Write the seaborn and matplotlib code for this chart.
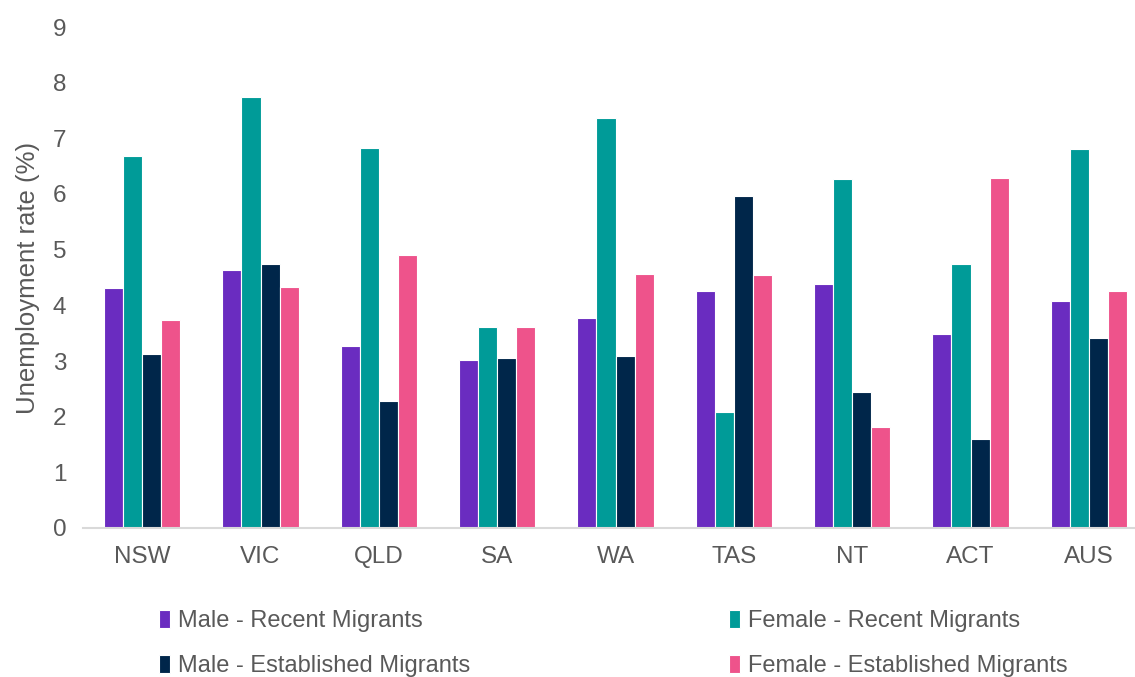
import matplotlib
matplotlib.use("Agg")
import matplotlib.pyplot as plt
import seaborn as sns
import pandas as pd

states = ["NSW", "VIC", "QLD", "SA", "WA", "TAS", "NT", "ACT", "AUS"]
series_names = ["Male - Recent Migrants", "Female - Recent Migrants",
                "Male - Established Migrants", "Female - Established Migrants"]
male_recent = [4.31, 4.63, 3.27, 3.02, 3.78, 4.26, 4.38, 3.48, 4.08]
female_recent = [6.68, 7.74, 6.83, 3.61, 7.36, 2.09, 6.27, 4.75, 6.80]
male_established = [3.13, 4.75, 2.28, 3.06, 3.09, 5.96, 2.44, 1.59, 3.41]
female_established = [3.74, 4.33, 4.91, 3.61, 4.56, 4.54, 1.82, 6.29, 4.26]
colors = ["#6A2CC0", "#009B98", "#00264A", "#EE538B"]

values = [male_recent, female_recent, male_established, female_established]
rows = []
for name, vals in zip(series_names, values):
    for s, v in zip(states, vals):
        rows.append({"state": s, "series": name, "rate": v})
df = pd.DataFrame(rows)

sns.set_theme(style="white")
plt.rcParams['font.family'] = ['Liberation Sans', 'DejaVu Sans']
text_color = "#595959"

fig = plt.figure(figsize=(11.35, 6.77), dpi=100)
ax = fig.add_axes([83 / 1135, 149 / 677, (1135 - 83) / 1135, 501 / 677])

sns.barplot(data=df, x="state", y="rate", hue="series", order=states,
            hue_order=series_names, palette=colors, width=0.645,
            edgecolor="white", linewidth=0.8, saturation=1, ax=ax)

ax.set_ylim(0, 9)
ax.set_xlim(-0.5, 8.39)
ax.set_yticks(range(0, 10))
ax.set_xlabel("")
ax.set_ylabel("Unemployment rate (%)", fontsize=18.5, color=text_color, labelpad=9)
ax.tick_params(axis="y", length=0, pad=12, labelsize=17.5, labelcolor=text_color)
ax.tick_params(axis="x", length=0, pad=13, labelsize=17.5, labelcolor=text_color)
for side in ["top", "right", "left"]:
    ax.spines[side].set_visible(False)
ax.spines["bottom"].set_color("#D9D9D9")
ax.spines["bottom"].set_linewidth(1.5)

handles, labels = ax.get_legend_handles_labels()
ax.get_legend().remove()
order = [0, 2, 1, 3]
fig.legend([handles[i] for i in order], [labels[i] for i in order],
           ncol=2, loc="lower left",
           bbox_to_anchor=(159 / 1135, 0 / 677, (1068 - 159) / 1135, 75 / 677),
           mode="expand", frameon=False, fontsize=17, labelcolor=text_color,
           handlelength=0.45, handleheight=0.8, handletextpad=0.35,
           labelspacing=0.95, borderaxespad=0, borderpad=0)

fig.savefig("out.png", dpi=100)
